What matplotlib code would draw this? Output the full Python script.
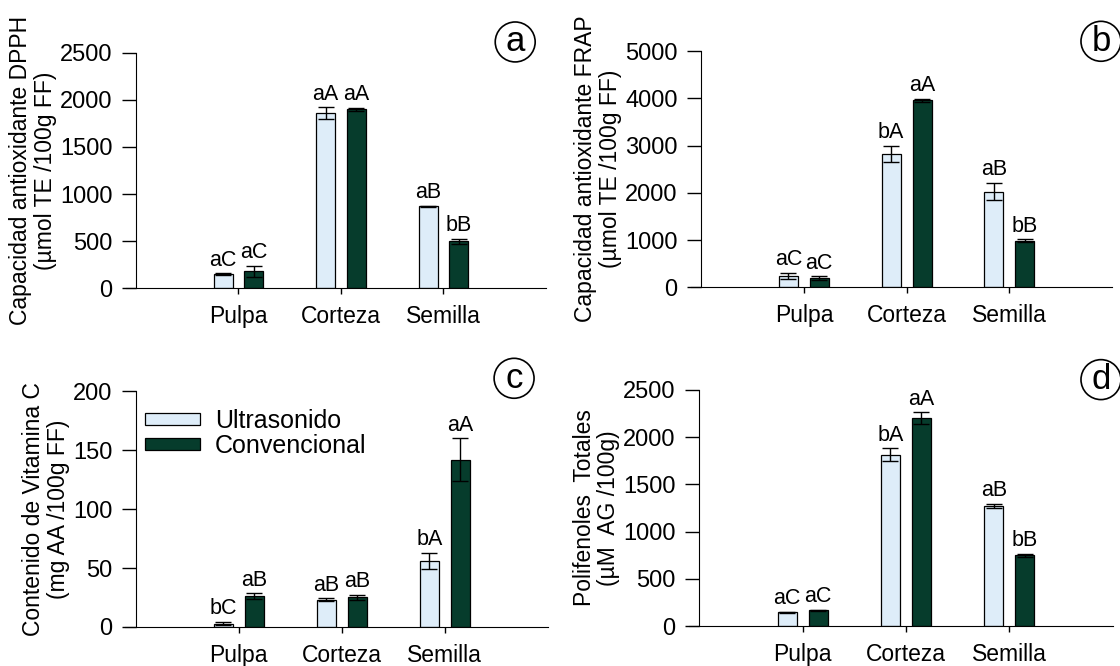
import numpy as np
import matplotlib
matplotlib.use('Agg')
from matplotlib import pyplot as plt

plt.rcParams['font.family'] = ['Liberation Sans', 'DejaVu Sans']

partes = ['Pulpa', 'Corteza', 'Semilla']

# (a) DPPH
dpph_us = [150, 1860, 870]
dpph_us_err = [10, 60, 6]
dpph_cv = [180, 1900, 500]
dpph_cv_err = [60, 15, 25]
dpph_lbl_us = ['aC', 'aA', 'aB']
dpph_lbl_cv = ['aC', 'aA', 'bB']

# (b) FRAP
frap_us = [240, 2820, 2025]
frap_us_err = [60, 175, 180]
frap_cv = [190, 3955, 990]
frap_cv_err = [40, 40, 25]
frap_lbl_us = ['aC', 'bA', 'aB']
frap_lbl_cv = ['aC', 'aA', 'bB']

# (c) Vitamina C
vitc_us = [2.8, 23.2, 56]
vitc_us_err = [1.5, 1, 7]
vitc_cv = [26, 25.2, 142]
vitc_cv_err = [2.5, 2, 18]
vitc_lbl_us = ['bC', 'aB', 'bA']
vitc_lbl_cv = ['aB', 'aB', 'aA']

# (d) Polifenoles
poli_us = [150, 1815, 1270]
poli_us_err = [5, 65, 20]
poli_cv = [168, 2200, 750]
poli_cv_err = [5, 60, 15]
poli_lbl_us = ['aC', 'bA', 'aB']
poli_lbl_cv = ['aC', 'aA', 'bB']

light = '#deedf9'
dark = '#063c2c'

fig = plt.figure(figsize=(11.2, 6.66), dpi=100)

panels = [
    ([0.1214, 0.567, 0.366, 0.354], dpph_us, dpph_us_err, dpph_cv, dpph_cv_err,
     dpph_lbl_us, dpph_lbl_cv,
     'Capacidad antioxidante DPPH\n(µmol TE /100g FF)', 2500, 500, 'a', (0.46, 0.937)),
    ([0.626, 0.5686, 0.367, 0.3548], frap_us, frap_us_err, frap_cv, frap_cv_err,
     frap_lbl_us, frap_lbl_cv,
     'Capacidad antioxidante FRAP\n(µmol TE /100g FF)', 5000, 1000, 'b', (0.983, 0.938)),
    ([0.1212, 0.0586, 0.368, 0.3539], vitc_us, vitc_us_err, vitc_cv, vitc_cv_err,
     vitc_lbl_us, vitc_lbl_cv,
     'Contenido de Vitamina C\n(mg AA /100g FF)', 200, 50, 'c', (0.459, 0.432)),
    ([0.6244, 0.0596, 0.369, 0.3553], poli_us, poli_us_err, poli_cv, poli_cv_err,
     poli_lbl_us, poli_lbl_cv,
     'Polifenoles  Totales\n(µM  AG /100g)', 2500, 500, 'd', (0.983, 0.430)),
]

x = np.arange(len(partes))
w = 0.185
off = 0.15

for rect, us, us_e, cv, cv_e, l_us, l_cv, ylab, ymax, step, tag, tpos in panels:
    ax = fig.add_axes(rect)
    ax.bar(x - off, us, w, yerr=us_e, color=light, edgecolor='black', linewidth=0.9,
           error_kw=dict(ecolor='black', elinewidth=1, capsize=6, capthick=1),
           label='Ultrasonido')
    ax.bar(x + off, cv, w, yerr=cv_e, color=dark, edgecolor='black', linewidth=0.9,
           error_kw=dict(ecolor='black', elinewidth=1, capsize=6, capthick=1),
           label='Convencional')
    for j in range(len(partes)):
        ax.annotate(l_us[j], (x[j] - off, us[j] + us_e[j]), xytext=(0, 2),
                    textcoords='offset points', ha='center', va='bottom', fontsize=15.5)
        ax.annotate(l_cv[j], (x[j] + off, cv[j] + cv_e[j]), xytext=(0, 2),
                    textcoords='offset points', ha='center', va='bottom', fontsize=15.5)

    ax.set_xlim(-1, 3)
    ax.set_ylim(0, ymax)
    ax.set_yticks(np.arange(0, ymax + 1, step))
    ax.set_xticks(x)
    ax.set_xticklabels(partes)
    ax.spines['top'].set_visible(False)
    ax.spines['right'].set_visible(False)
    ax.spines['bottom'].set_bounds(-1.1, 3)
    ax.tick_params(axis='y', direction='out', length=10, width=1, labelsize=17, pad=7)
    ax.tick_params(axis='x', direction='out', length=4, width=1, labelsize=16.5, pad=8)
    ax.set_ylabel(ylab, fontsize=16.5, linespacing=1.1, labelpad=2)

    fig.text(tpos[0], tpos[1], tag, fontsize=25, ha='center', va='center',
             bbox=dict(boxstyle='circle,pad=0.1', fc='white', ec='black', lw=1.2))

    if tag == 'c':
        ax.legend(loc='upper left', bbox_to_anchor=(-0.02, 1.0), frameon=False, fontsize=18,
                  handlelength=2.2, handleheight=0.4, handletextpad=0.6,
                  labelspacing=0.05, borderaxespad=0.3)

plt.savefig('out.png', dpi=100)
